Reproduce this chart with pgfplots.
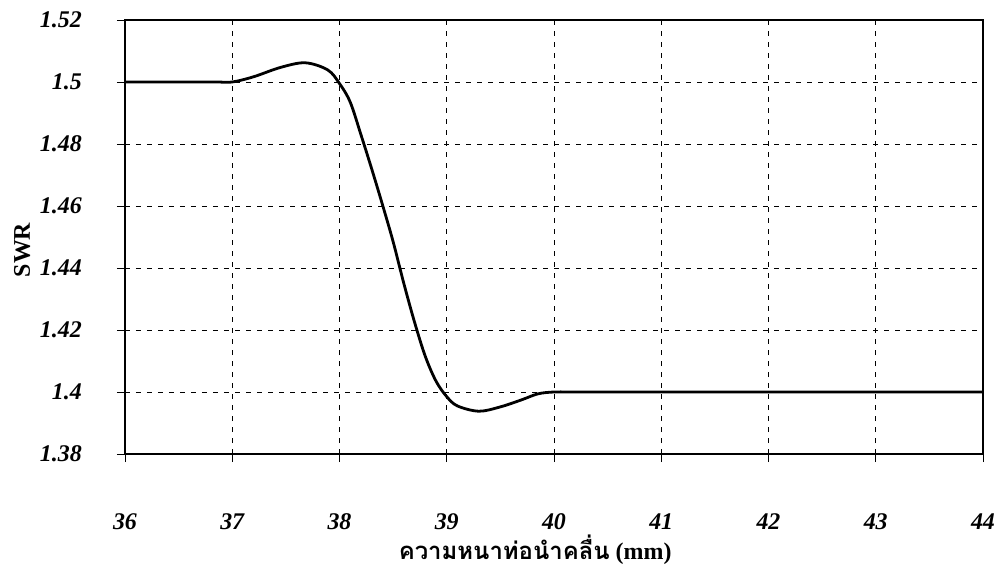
\documentclass[border=0pt]{standalone}
\usepackage{fontspec}
\setmainfont{Liberation Serif}
\newfontfamily\thaifont[Script=Thai]{Loma}
\usepackage{pgfplots}
\pgfplotsset{compat=1.18}
\begin{document}
\begin{tikzpicture}
\begin{axis}[
  at={(0,0)}, anchor=south west,
  scale only axis, width=858bp, height=434bp,
  xmin=36, xmax=44, ymin=1.38, ymax=1.52,
  xtick={36,37,...,44},
  ytick={1.38,1.40,...,1.52},
  yticklabels={1.38,1.4,1.42,1.44,1.46,1.48,1.5,1.52},
  tick pos=left, tick align=outside, major tick length=8bp,
  tick style={black, line width=0.6bp},
  grid=major,
  major grid style={black, line width=0.6bp, dash pattern=on 5bp off 6bp},
  axis line style={black, line width=1.2bp},
  /pgf/number format/assume math mode=true,
  ticklabel style={font=\fontsize{24}{27}\selectfont\bfseries\itshape},
  yticklabel style={anchor=east, inner sep=0pt, xshift=-35bp},
  xticklabel style={anchor=center, inner sep=0pt, yshift=-60bp},
  xlabel={{\thaifont\bfseries ความหนาท่อนำคลื่น}\ \textbf{(mm)}},
  xlabel style={font=\fontsize{24}{26}\selectfont, inner sep=0pt, at={(axis description cs:0.478,0)}, anchor=center, yshift=-96bp},
  ylabel={\fontsize{24}{27}\selectfont\bfseries SWR},
  ylabel style={inner sep=0pt, at={(axis description cs:-0.12,0.47)}, anchor=center},
]
\addplot[black, line width=2.8bp, smooth, tension=0.55] coordinates {
(36,1.5)(36.5,1.5)(36.85,1.5)(37,1.5)(37.2,1.5017)(37.45,1.5047)(37.68,1.5062)(37.89,1.5039)(38.0,1.4995)
(38.1,1.4935)(38.2,1.483)(38.3,1.472)(38.4,1.4605)(38.5,1.4485)(38.6,1.435)(38.7,1.4225)(38.8,1.4115)
(38.9,1.4035)(39.0,1.3985)(39.1,1.3955)(39.3,1.3938)(39.5,1.3952)(39.7,1.3975)(39.85,1.3994)(40,1.4)
(40.2,1.4)(41,1.4)(44,1.4)
};
\end{axis}
\path[use as bounding box] (-125bp,-118bp) rectangle (871bp,454bp);
\end{tikzpicture}
\end{document}
